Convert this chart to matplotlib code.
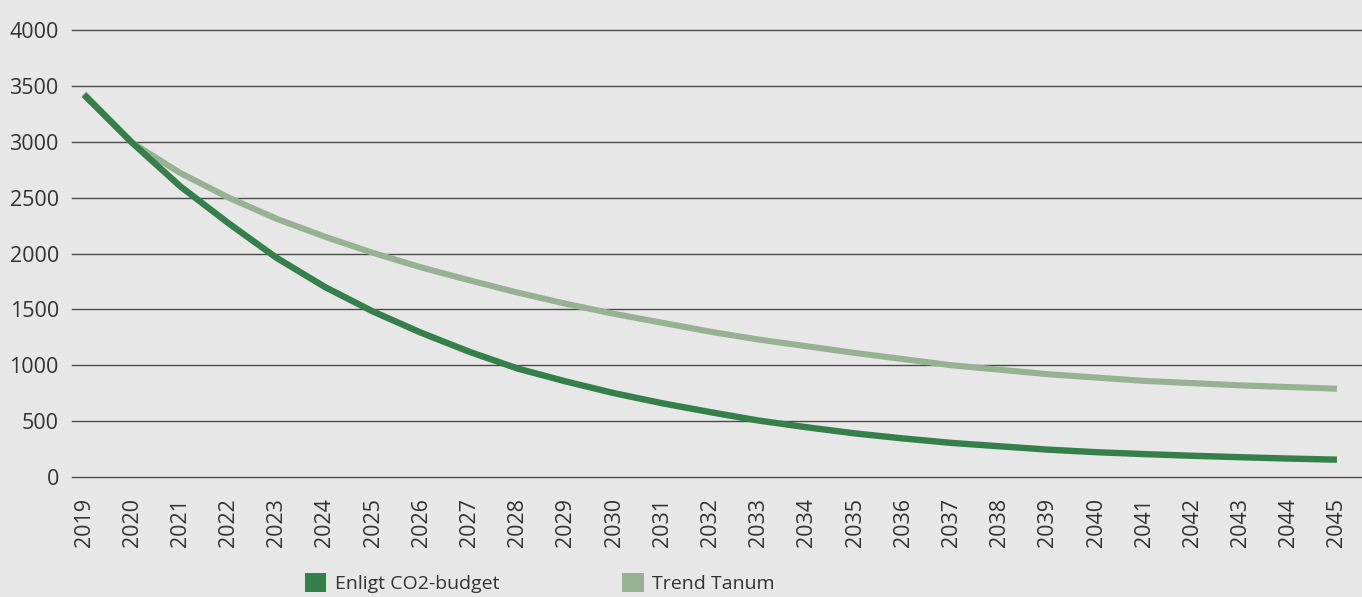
import matplotlib.pyplot as plt
from matplotlib.patches import Patch

years = list(range(2019, 2046))

budget = [3420, 2990, 2600, 2270, 1960, 1700, 1480, 1290, 1120, 970,
          855, 750, 660, 580, 505, 445, 390, 345, 305, 275,
          245, 222, 205, 190, 177, 165, 155]

trend = [3430, 2990, 2720, 2500, 2310, 2150, 2005, 1875, 1760, 1650,
         1550, 1460, 1380, 1300, 1230, 1170, 1110, 1055, 1000, 960,
         920, 890, 860, 840, 820, 805, 790]

series_names = ["Enligt CO2-budget", "Trend Tanum"]
y_ticks = [0, 500, 1000, 1500, 2000, 2500, 3000, 3500, 4000]

BG = "#e6e7e6"
COLORS = ["#357f4b", "#97b193"]
TEXT = "#333333"


def draw_lines(ax) -> None:
    """
    Draw both series as thick lines.

    Parameters
        ax (Axes): Axes to draw on

    Returns
        None
    """

    ax.plot(years, trend, color=COLORS[1], linewidth=4.4,
            solid_capstyle="butt", solid_joinstyle="round", zorder=3)
    ax.plot(years, budget, color=COLORS[0], linewidth=4.6,
            solid_capstyle="butt", solid_joinstyle="round", zorder=4)


def style_axes(ax) -> None:
    """
    Set ticks, grid and limits like the reference.

    Parameters
        ax (Axes): Axes to style

    Returns
        None
    """

    ax.set_facecolor(BG)
    ax.set_xlim(years[0] - 0.25, years[-1] + 0.52)
    ax.set_ylim(0, 4000)
    ax.set_yticks(y_ticks)
    ax.set_xticks(years)
    ax.set_xticklabels([str(y) for y in years], rotation=90)
    ax.tick_params(axis="both", length=0, labelsize=15.5, colors=TEXT)
    ax.tick_params(axis="y", pad=9.5)
    ax.tick_params(axis="x", pad=15)
    ax.grid(axis="y", color="#4a4a4a", linewidth=1.0)
    for line in ax.get_ygridlines():
        line.set_clip_on(False)
    ax.set_axisbelow(True)
    for spine in ax.spines.values():
        spine.set_visible(False)


def main():
    """
    Build the chart and save it as out.png.
    """

    plt.rcParams["font.family"] = ["Open Sans", "DejaVu Sans"]

    fig = plt.figure(figsize=(13.62, 5.97), dpi=100, facecolor=BG)
    ax = fig.add_axes([72 / 1362, 120 / 597, 1 - 72 / 1362, 447 / 597])

    draw_lines(ax)
    style_axes(ax)

    handles = [Patch(facecolor=c, edgecolor="none") for c in COLORS]
    fig.legend(handles, series_names, loc="center",
               bbox_to_anchor=(540 / 1362, 14 / 597), ncol=2,
               frameon=False, fontsize=14, labelcolor=TEXT,
               handlelength=1.1, handleheight=1.1, handletextpad=0.45,
               columnspacing=6.3, borderpad=0)

    fig.savefig("out.png", dpi=100, facecolor=BG)


if __name__ == "__main__":

    main()
